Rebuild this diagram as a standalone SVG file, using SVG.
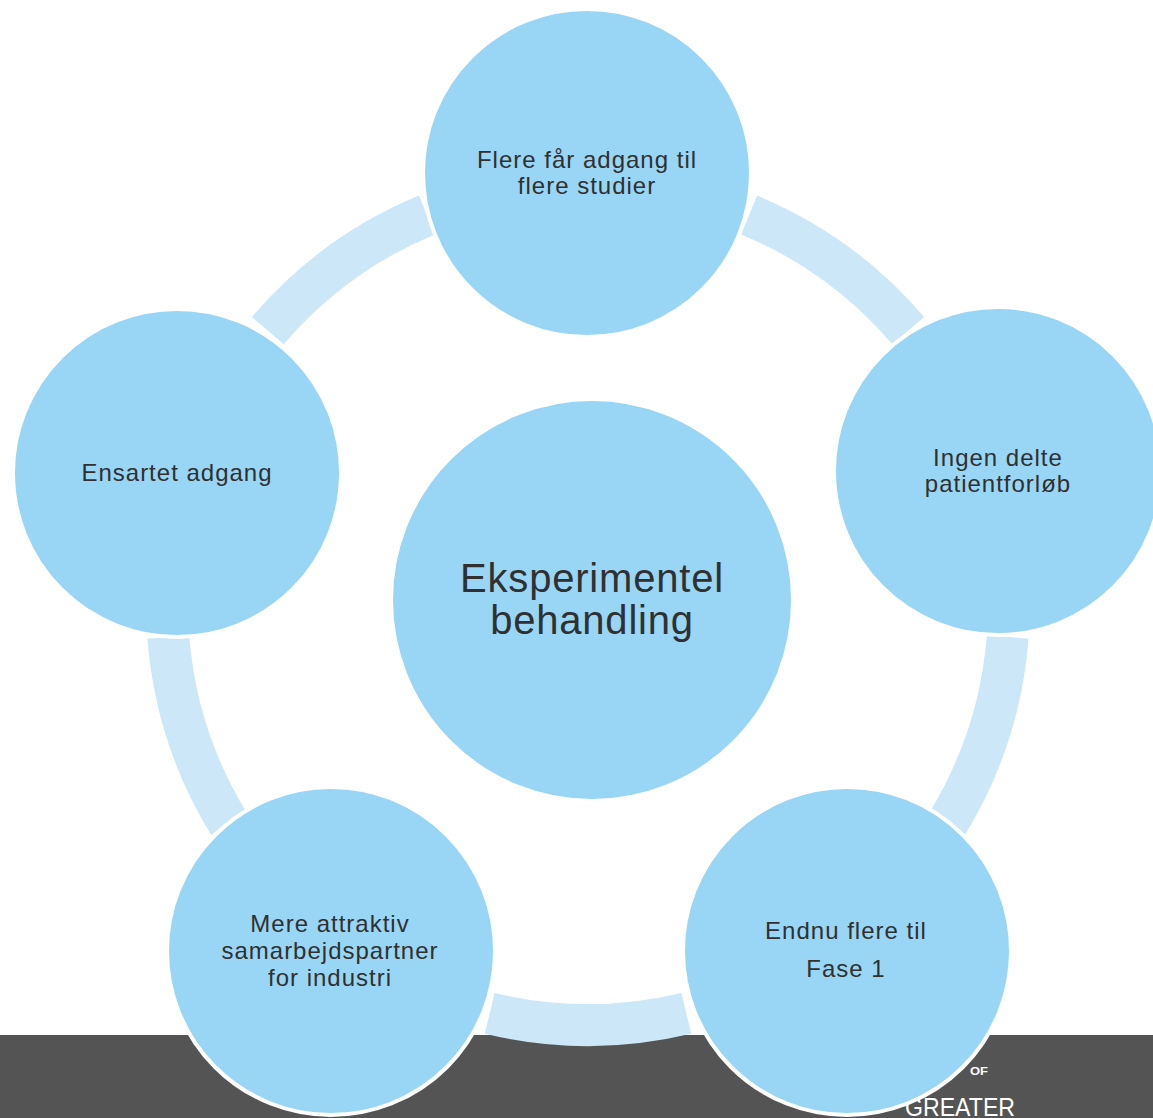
<svg xmlns="http://www.w3.org/2000/svg" width="1153" height="1118" viewBox="0 0 1153 1118">
<style>
.node{fill:#99D6F5;stroke:#FFFFFF;stroke-width:4}
.band{fill:#CBE7F8;stroke:none}
.t{font-family:"Liberation Sans",Arial,sans-serif;font-size:24px;fill:#303030;text-anchor:middle;letter-spacing:1px}
.tc{font-family:"Liberation Sans",Arial,sans-serif;font-size:40px;fill:#303030;text-anchor:middle;letter-spacing:0.8px}
.w{font-family:"Liberation Sans",Arial,sans-serif;fill:#FFFFFF}
</style>
<rect x="0" y="0" width="1153" height="1118" fill="#FFFFFF"/>
<rect id="footer" x="0" y="1035" width="1153" height="83" fill="#545454"/>
<g id="connectors">
<path class="band" d="M757.1,195.6 A442,442 0 0,1 924.1,316.9 L892.2,344.2 A400,400 0 0,0 741.1,234.4 Z"/>
<path class="band" d="M1028.6,638.7 A442,442 0 0,1 964.9,834.9 L929.1,813 A400,400 0 0,0 986.8,635.4 Z"/>
<path class="band" d="M691.2,1033.8 A442,442 0 0,1 484.8,1033.8 L494.6,992.9 A400,400 0 0,0 681.4,992.9 Z"/>
<path class="band" d="M211.1,834.9 A442,442 0 0,1 147.4,638.7 L189.2,635.4 A400,400 0 0,0 246.9,813 Z"/>
<path class="band" d="M251.9,316.9 A442,442 0 0,1 418.9,195.6 L434.9,234.4 A400,400 0 0,0 283.8,344.2 Z"/>
</g>
<g id="logo">
<text class="w" x="970" y="1075" font-size="10" font-weight="bold" textLength="18" lengthAdjust="spacingAndGlyphs">OF</text>
<text class="w" x="905" y="1116" font-size="26" textLength="110" lengthAdjust="spacingAndGlyphs">GREATER</text>
</g>
<g id="center">
<circle class="node" cx="592" cy="600" r="201"/>
<text class="tc" x="592" y="592">Eksperimentel</text>
<text class="tc" x="592" y="634">behandling</text>
</g>
<g id="node-top">
<circle class="node" cx="587" cy="173" r="164"/>
<text class="t" x="587" y="168">Flere får adgang til</text>
<text class="t" x="587" y="194">flere studier</text>
</g>
<g id="node-right">
<circle class="node" cx="998" cy="471" r="164"/>
<text class="t" x="998" y="466">Ingen delte</text>
<text class="t" x="998" y="492">patientforløb</text>
</g>
<g id="node-bottom-right">
<circle class="node" cx="847" cy="951" r="164"/>
<text class="t" x="846" y="939">Endnu flere til</text>
<text class="t" x="846" y="977">Fase 1</text>
</g>
<g id="node-bottom-left">
<circle class="node" cx="331" cy="951" r="164"/>
<text class="t" x="330" y="932">Mere attraktiv</text>
<text class="t" x="330" y="959">samarbejdspartner</text>
<text class="t" x="330" y="986">for industri</text>
</g>
<g id="node-left">
<circle class="node" cx="177" cy="473" r="164"/>
<text class="t" x="177" y="481">Ensartet adgang</text>
</g>
</svg>
